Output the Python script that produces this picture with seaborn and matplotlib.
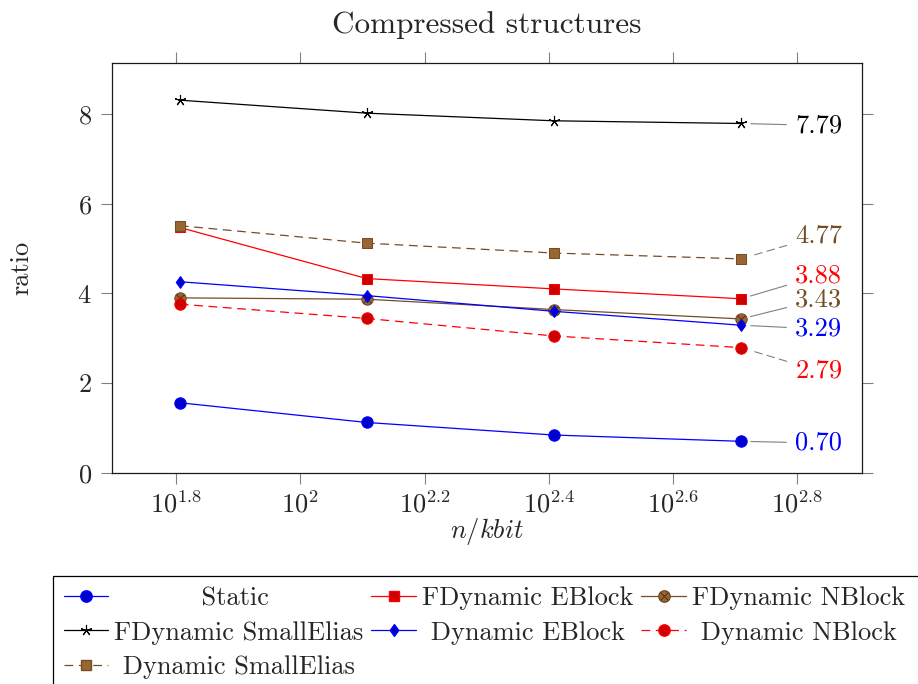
import numpy as np
import pandas as pd
import seaborn as sns
import matplotlib.pyplot as plt
from matplotlib.lines import Line2D
from matplotlib.path import Path
from matplotlib.patches import Rectangle

sns.set_theme(style='white')
plt.rcParams['font.family'] = ['cmr10', 'DejaVu Serif']
plt.rcParams['mathtext.fontset'] = 'cm'
plt.rcParams['axes.formatter.use_mathtext'] = True
plt.rcParams['axes.unicode_minus'] = False

# data
sizes = [64, 128, 256, 512]  # n / kbit
static = [1.56, 1.12, 0.84, 0.70]
fdyn_eblock = [5.47, 4.33, 4.10, 3.88]
fdyn_nblock = [3.90, 3.87, 3.64, 3.43]
fdyn_smallelias = [8.31, 8.02, 7.85, 7.79]
dyn_eblock = [4.26, 3.95, 3.60, 3.29]
dyn_nblock = [3.76, 3.44, 3.05, 2.79]
dyn_smallelias = [5.51, 5.12, 4.90, 4.77]

xtick_exp = [1.8, 2.0, 2.2, 2.4, 2.6, 2.8]
xtick_labels = ['$10^{1.8}$', '$10^{2}$', '$10^{2.2}$', '$10^{2.4}$', '$10^{2.6}$', '$10^{2.8}$']

BLUE, BLUE_F = '#0000FF', '#0000CC'
RED, RED_F = '#FF0000', '#CC0000'
BROWN, BROWN_F = '#734D26', '#996633'
DASH = (0, (7, 4.5))
diamond = Path([(0, 1), (0.72, 0), (0, -1), (-0.72, 0), (0, 1)],
               [Path.MOVETO, Path.LINETO, Path.LINETO, Path.LINETO, Path.CLOSEPOLY])

series = {
    'Static': (static, dict(color=BLUE, marker='o', ms=8.2, mfc=BLUE_F, mec=BLUE)),
    'FDynamic EBlock': (fdyn_eblock, dict(color=RED, marker='s', ms=7.6, mfc=RED_F, mec=RED)),
    'FDynamic NBlock': (fdyn_nblock, dict(color=BROWN, marker='o', ms=8.2, mfc=BROWN_F, mec=BROWN)),
    'FDynamic SmallElias': (fdyn_smallelias, dict(color='black', marker=(5, 2, 0), ms=8, mec='black', mew=0.8)),
    'Dynamic EBlock': (dyn_eblock, dict(color=BLUE, marker=diamond, ms=8.5, mfc=BLUE_F, mec=BLUE)),
    'Dynamic NBlock': (dyn_nblock, dict(color=RED, marker='o', ms=8.2, mfc=RED_F, mec=RED, linestyle=DASH)),
    'Dynamic SmallElias': (dyn_smallelias, dict(color=BROWN, marker='s', ms=7.6, mfc=BROWN_F, mec=BROWN, linestyle=DASH)),
}

df = pd.DataFrame({
    'n': sizes * len(series),
    'ratio': sum([v for v, _ in series.values()], []),
    'series': sum([[k] * len(sizes) for k in series], []),
})

# right-hand value labels: (series, text colour, offset in points, dashed leader)
value_labels = [
    ('FDynamic SmallElias', 'black', -1.4, False),
    ('Dynamic SmallElias', BROWN, 16.5, True),
    ('FDynamic EBlock', RED, 16.5, False),
    ('FDynamic NBlock', BROWN, 14.0, False),
    ('Dynamic EBlock', BLUE, -2.7, False),
    ('Dynamic NBlock', RED, -16.8, True),
    ('Static', BLUE, -1.2, False),
]

fig = plt.figure(figsize=(9.18, 6.84), dpi=100)
ax = fig.add_axes([112 / 918, 1 - 472.7 / 684, 750 / 918, 410 / 684])
ax.set_xscale('log')

for name, (vals, style) in series.items():
    sub = df[df['series'] == name]
    sns.lineplot(data=sub, x='n', y='ratio', ax=ax, lw=0.9, label=name,
                 errorbar=None, legend=False, **style)
    if name == 'FDynamic NBlock':
        ax.plot(sub['n'], sub['ratio'], ls='none', marker='x', ms=5.2,
                mew=0.7, color='#4a3218')

for name, col, dy, dashed in value_labels:
    v = series[name][0][-1]
    ax.annotate(f'{v:.2f}', xy=(sizes[-1], v), xytext=(39, dy),
                textcoords='offset points', ha='left', va='center',
                fontsize=19, color=col,
                arrowprops=dict(arrowstyle='-', color='0.5', lw=0.8,
                                linestyle=DASH if dashed else '-',
                                shrinkA=4, shrinkB=7))

ax.set_xlim(10 ** 1.697, 10 ** 2.9038)
ax.set_ylim(0, 9.146)
ax.set_xticks([10 ** e for e in xtick_exp])
ax.set_xticklabels(xtick_labels)
ax.xaxis.set_minor_locator(plt.NullLocator())
ax.set_yticks([0, 2, 4, 6, 8])
ax.tick_params(axis='both', which='major', direction='out', length=8, width=0.8,
               color='0.5', labelsize=19, bottom=True, top=True, left=True, right=True,
               labeltop=False, labelright=False)
ax.tick_params(axis='x', pad=5)
ax.tick_params(axis='y', pad=6.5)
for sp in ax.spines.values():
    sp.set_color('0.1')
    sp.set_linewidth(0.9)

ax.set_title('Compressed structures', fontsize=22.5, y=1.0724, pad=0)
ax.set_xlabel('$n/kbit$', fontsize=19)
ax.xaxis.set_label_coords(0.5, -0.159)
ax.xaxis.label.set_va('baseline')
ax.set_ylabel('ratio', fontsize=19)
ax.yaxis.set_label_coords(-0.1053, 0.5)

# legend, filled column by column so rows read like the reference
order = ['Static', 'FDynamic SmallElias', 'Dynamic SmallElias',
         'FDynamic EBlock', 'Dynamic EBlock', 'FDynamic NBlock', 'Dynamic NBlock']
columns = [order[:3], order[3:5], order[5:]]

renderer = fig.canvas.get_renderer()


def text_w(s):
    t = fig.text(0, 0, s, fontsize=19)
    w = t.get_window_extent(renderer).width
    t.remove()
    return w


# centre each label inside its column, like the pgfplots legend
space_w = text_w('x x') - text_w('xx')
padded = {}
for col in columns:
    widest = max(text_w(s) for s in col)
    for s in col:
        n = int(round((widest - text_w(s)) / 2 / space_w))
        padded[s] = ' ' * n + s

handles = []
for name in order:
    style = dict(series[name][1])
    line = Line2D([], [], lw=0.9, **style)
    if name == 'FDynamic NBlock':
        cross = Line2D([], [], ls='none', marker='x', ms=5.2, mew=0.7, color='#4a3218')
        handles.append((line, cross))
    else:
        handles.append(line)

leg = fig.legend(handles, [padded[s] for s in order], loc='upper left',
                 bbox_to_anchor=(53 / 918, 1 - 576 / 684), borderaxespad=0,
                 ncol=3, fontsize=19, frameon=False, borderpad=0.4,
                 labelspacing=0.4, handlelength=1.7, handletextpad=0.22,
                 columnspacing=0.3, numpoints=1)

# the legend frame runs past the right and bottom edges of the picture
fig.canvas.draw()
bb = leg.get_window_extent(fig.canvas.get_renderer())
fig.patches.append(Rectangle((bb.x0, bb.y0 - 10), bb.width + 30, bb.height + 10,
                             transform=None, fill=False, ec='black', lw=0.9,
                             figure=fig))

fig.savefig('out.png', dpi=100)
